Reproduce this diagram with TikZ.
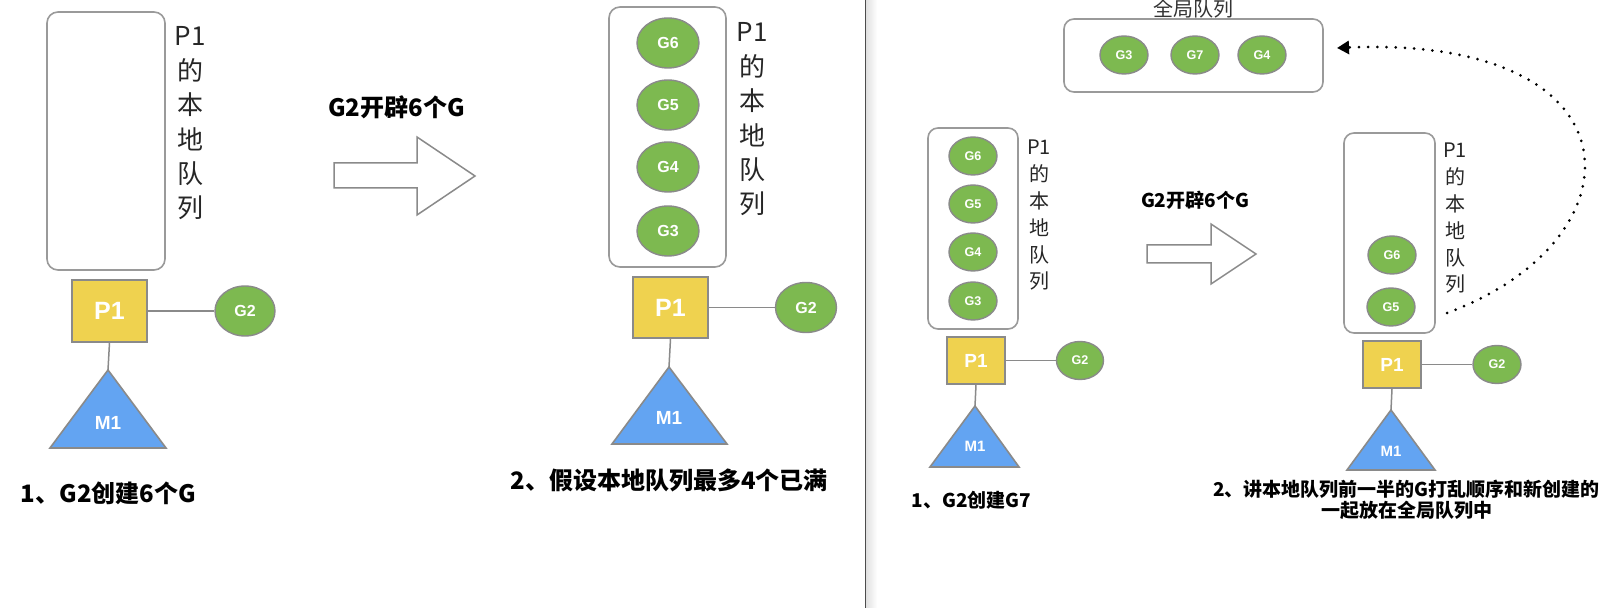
\documentclass[tikz,border=0pt]{standalone}
\usepackage{fontspec}
\setmainfont{Liberation Sans}
\newfontfamily\cjk{Noto Sans CJK SC}
\usetikzlibrary{shapes.geometric,arrows.meta}
\definecolor{gfill}{HTML}{7DB950}
\definecolor{pfill}{HTML}{EFD24F}
\definecolor{mfill}{HTML}{63A4F2}
\definecolor{bord}{HTML}{8A8A8A}
\definecolor{qbord}{HTML}{9A9A9A}
\begin{document}
\begin{tikzpicture}[x=0.5pt,y=-0.5pt,
  qbox/.style={draw=qbord,line width=0.8pt,rounded corners=5.5pt,inner sep=0pt},
  gbig/.style={ellipse,draw=bord,line width=0.7pt,fill=gfill,text=white,inner sep=0pt,
    minimum width=31pt,minimum height=25pt,font=\bfseries\fontsize{8}{8}\selectfont},
  gsmall/.style={ellipse,draw=bord,line width=0.7pt,fill=gfill,text=white,inner sep=0pt,
    minimum width=24pt,minimum height=19pt,font=\bfseries\fontsize{6.3}{6.3}\selectfont},
  pbig/.style={rectangle,draw=bord,line width=0.8pt,fill=pfill,text=white,inner sep=0pt,
    minimum width=37.5pt,minimum height=31pt,font=\bfseries\fontsize{12.5}{12.5}\selectfont},
  psmall/.style={rectangle,draw=bord,line width=0.8pt,fill=pfill,text=white,inner sep=0pt,
    minimum width=29pt,minimum height=23.5pt,font=\bfseries\fontsize{9.5}{9.5}\selectfont},
  tri/.style={draw=bord,line width=0.8pt,fill=mfill},
  mbig/.style={text=white,inner sep=0pt,font=\bfseries\fontsize{9.5}{9.5}\selectfont},
  msmall/.style={text=white,inner sep=0pt,font=\bfseries\fontsize{7.5}{7.5}\selectfont},
  link/.style={draw=bord,line width=0.75pt},
  vbig/.style={align=center,inner sep=0pt,text=black!85,font=\cjk\fontsize{13}{17.2}\selectfont},
  vsmall/.style={align=center,inner sep=0pt,text=black!85,font=\cjk\fontsize{10}{13.4}\selectfont},
  capbig/.style={align=center,inner sep=0pt,font=\cjk\bfseries\fontsize{12}{12}\selectfont},
  capsmall/.style={align=center,inner sep=0pt,font=\cjk\bfseries\fontsize{9.5}{10.5}\selectfont},
  blockarrow/.style={draw=bord,line width=0.75pt,fill=white}
]
\useasboundingbox[fill=white] (0,0) rectangle (1603,608);

% divider
\shade[left color=black!12,right color=white] (866,0) rectangle (877,608);
\draw[black!70,line width=0.8pt] (865.5,0) -- (865.5,608);

% ===== Panel 1 =====
\node[qbox,minimum width=59pt,minimum height=129pt] (q1) at (106,141) {};
\node[vbig] (v1) at (190,123.5) {P1\\的\\本\\地\\队\\列};
\node[pbig] (p1a) at (109.5,311) {P1};
\node[gbig,minimum width=30pt] (g2a) at (245,311) {G2};
\draw[link] (p1a) -- (g2a);
\draw[tri] (108,370) -- (166,448) -- (50,448) -- cycle;
\coordinate (ma) at (108,370);
\node[mbig] (m1a) at (108,423) {M1};
\draw[link] (p1a.south) -- (ma);
\node[capbig] (c1) at (108.5,493) {1、G2创建6个G};

% ===== Arrow 1 =====
\node[capbig] (t1) at (396.5,107) {G2开辟6个G};
\draw[blockarrow] (334,163) -- (417,163) -- (417,137) -- (475,176) -- (417,215) -- (417,188) -- (334,188) -- cycle;

% ===== Panel 2 =====
\node[qbox,minimum width=58.5pt,minimum height=130pt] (q2) at (667.5,137) {};
\node[gbig] (b6) at (668,43) {G6};
\node[gbig] (b5) at (668,105) {G5};
\node[gbig] (b4) at (668,167) {G4};
\node[gbig] (b3) at (668,231) {G3};
\node[vbig] (v2) at (752,119.5) {P1\\的\\本\\地\\队\\列};
\node[pbig,minimum height=30.5pt] (p1b) at (670.5,307.5) {P1};
\node[gbig,minimum width=30.5pt] (g2b) at (806,307.5) {G2};
\draw[link] (p1b) -- (g2b);
\draw[tri] (669,367) -- (727,444) -- (612,444) -- cycle;
\coordinate (mb) at (669,367);
\node[mbig] (m1b) at (669,418) {M1};
\draw[link] (p1b.south) -- (mb);
\node[capbig] (c2) at (669,480) {2、假设本地队列最多4个已满};

% ===== Panel 3 =====
\node[inner sep=0pt,text=black!80,font=\cjk\fontsize{10}{10}\selectfont] (gl) at (1193.5,9) {全局队列};
\node[qbox,minimum width=129.5pt,minimum height=36.5pt,rounded corners=5pt] (gq) at (1193.5,55.5) {};
\node[gsmall] (x3) at (1124,55) {G3};
\node[gsmall] (x7) at (1195,55) {G7};
\node[gsmall] (x4) at (1262,55) {G4};

\node[qbox,minimum width=45pt,minimum height=100.5pt,rounded corners=5pt] (q3) at (973,228.5) {};
\node[gsmall] (c6) at (973,156) {G6};
\node[gsmall] (c5) at (973,204) {G5};
\node[gsmall] (c4) at (973,252) {G4};
\node[gsmall] (c3) at (973,301) {G3};
\node[vsmall] (v3) at (1039,215.5) {P1\\的\\本\\地\\队\\列};
\node[psmall] (p1c) at (976,360.5) {P1};
\node[gsmall,minimum width=23.5pt] (g2c) at (1080,360.5) {G2};
\draw[link] (p1c) -- (g2c);
\draw[tri] (975,406) -- (1019,467) -- (930,467) -- cycle;
\coordinate (mc) at (975,406);
\node[msmall] (m1c) at (975,446) {M1};
\draw[link] (p1c.south) -- (mc);
\node[capsmall] (c3cap) at (971.5,500) {1、G2创建G7};

% ===== Arrow 2 =====
\node[capsmall] (t2) at (1195,200) {G2开辟6个G};
\draw[blockarrow] (1147,245) -- (1211,245) -- (1211,224) -- (1256,254) -- (1211,284) -- (1211,263) -- (1147,263) -- cycle;

% ===== Panel 4 =====
\node[qbox,minimum width=45.5pt,minimum height=100pt,rounded corners=5pt] (q4) at (1389.5,233) {};
\node[gsmall] (d6) at (1392,255) {G6};
\node[gsmall] (d5) at (1391,307) {G5};
\node[vsmall] (v4) at (1455,218.5) {P1\\的\\本\\地\\队\\列};
\node[psmall] (p1d) at (1392,364.5) {P1};
\node[gsmall] (g2d) at (1497,364.5) {G2};
\draw[link] (p1d) -- (g2d);
\draw[tri] (1391,410) -- (1435,470) -- (1347,470) -- cycle;
\coordinate (md) at (1391,410);
\node[msmall] (m1d) at (1391,451) {M1};
\draw[link] (p1d.south) -- (md);
\node[capsmall] (c4cap) at (1406.5,499.5) {2、讲本地队列前一半的G打乱顺序和新创建的\\一起放在全局队列中};

% dotted curve
\coordinate (ds) at (1447,313);
\coordinate (de) at (1337,48);
\draw[line width=1.5pt,line cap=round,dash pattern=on 0pt off 4.6pt,
  -{Triangle[length=6pt,width=6.5pt,line cap=butt]}]
  (ds) .. controls (1645,240) and (1645,35) .. (de);
\end{tikzpicture}
\end{document}
